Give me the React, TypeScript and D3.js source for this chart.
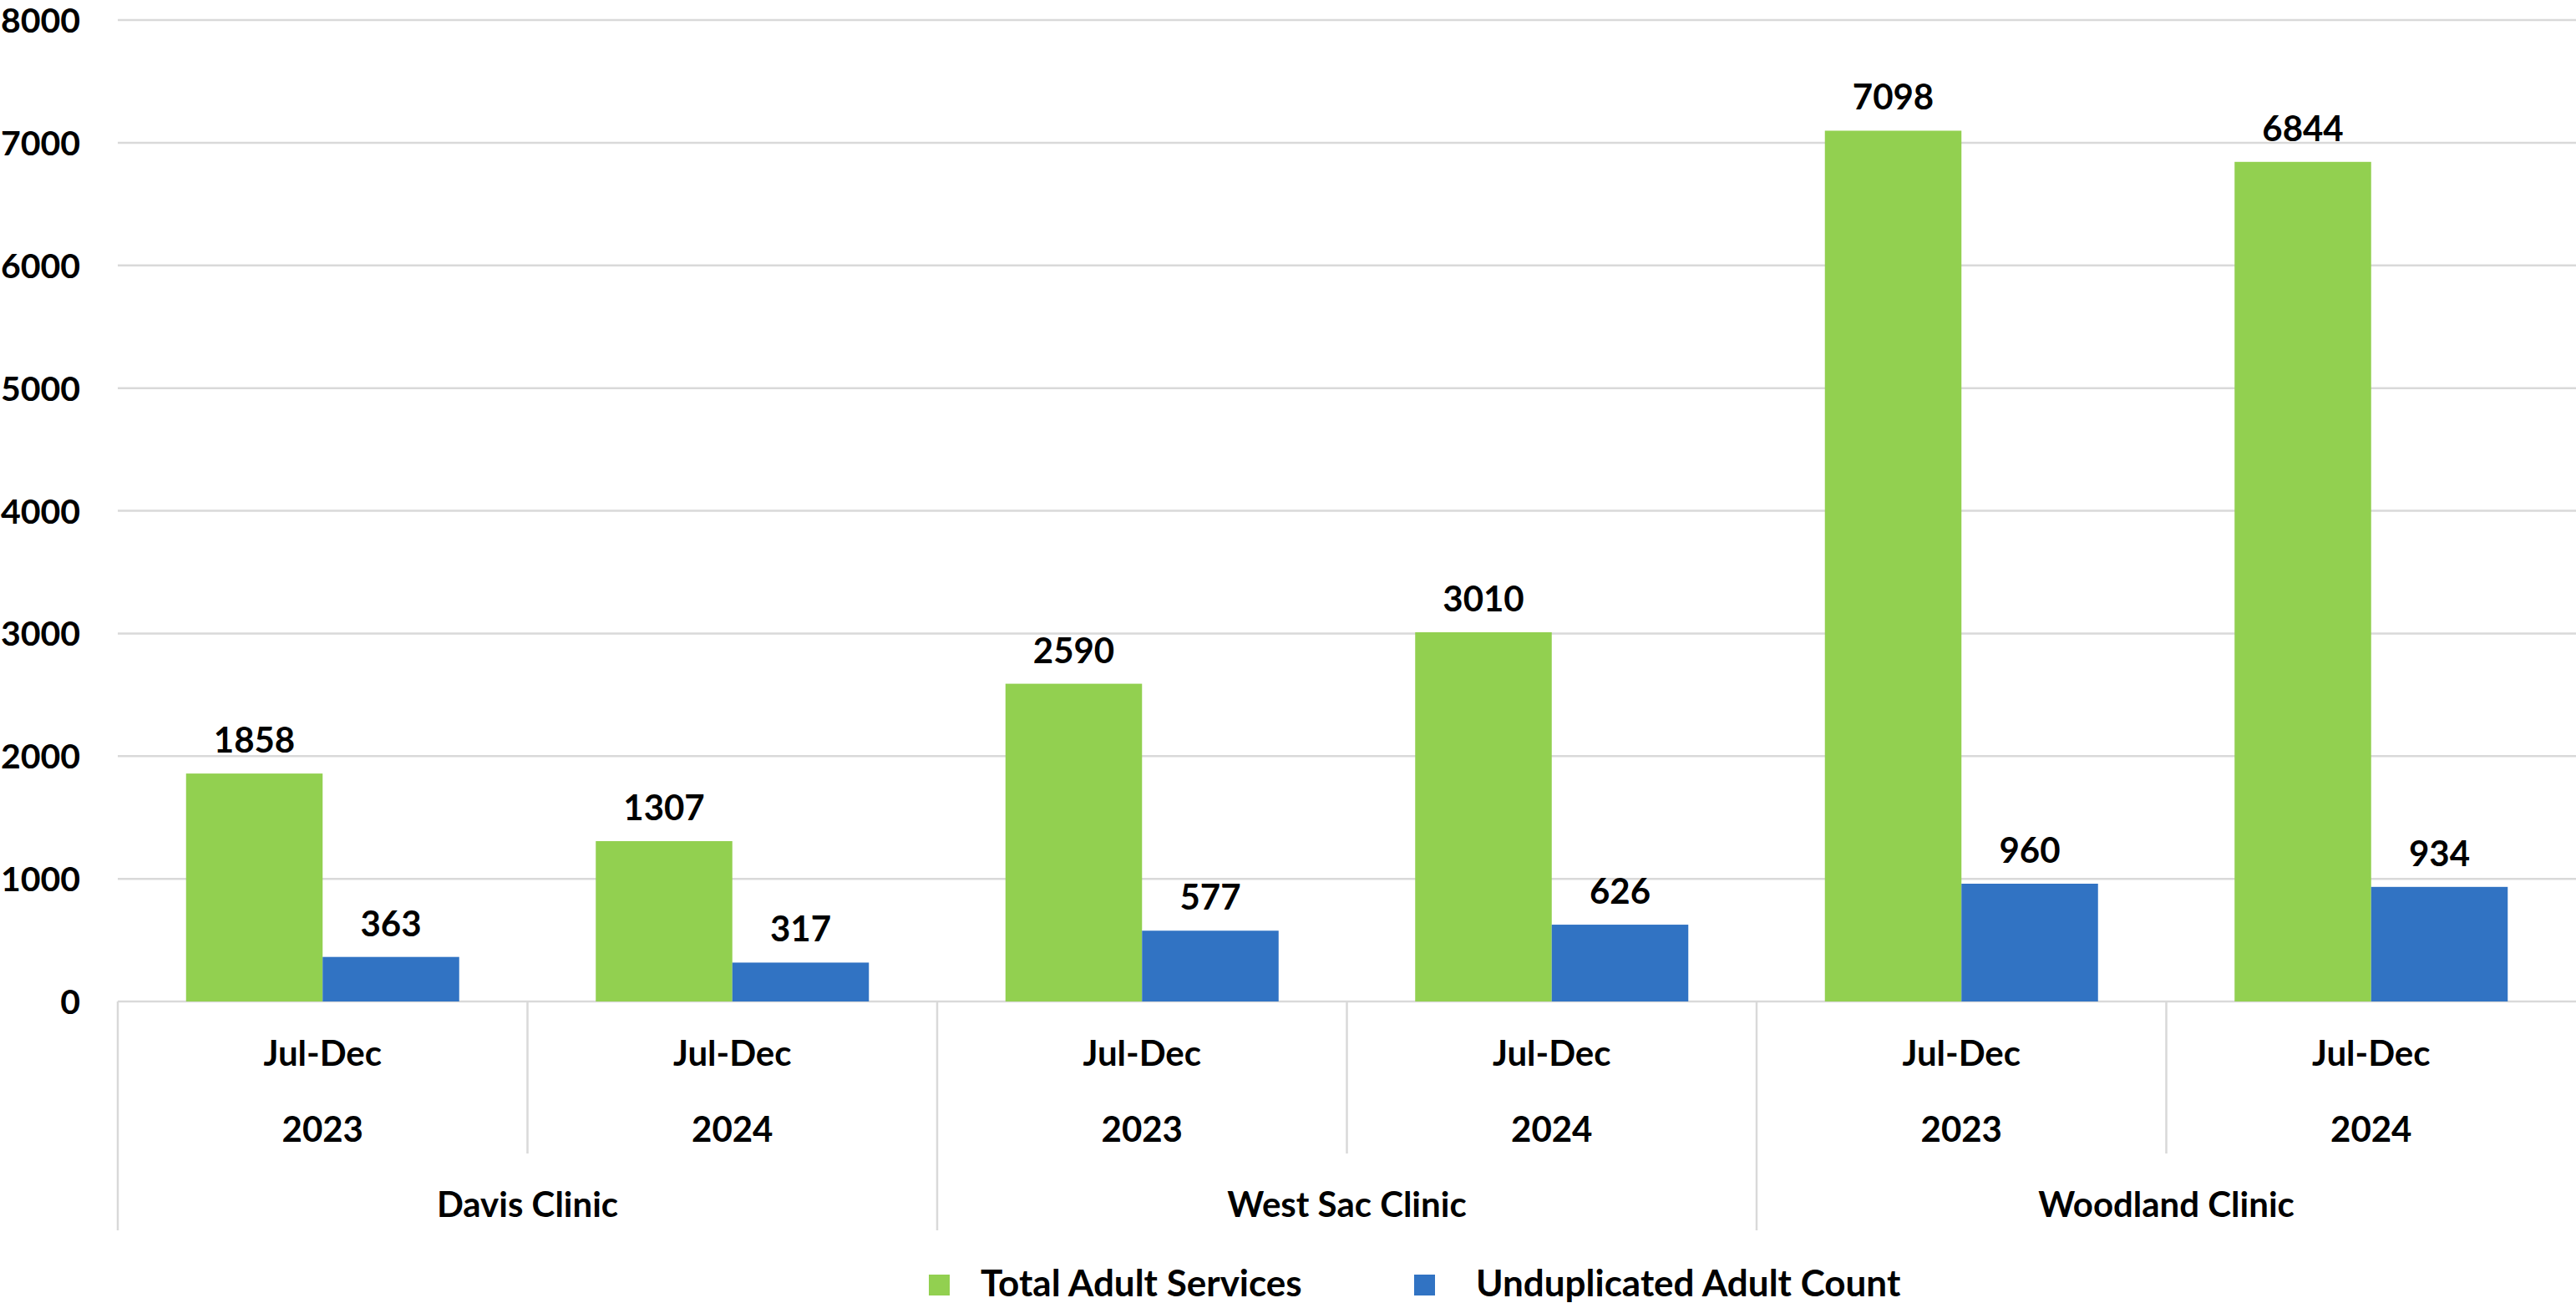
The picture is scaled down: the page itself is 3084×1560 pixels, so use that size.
import React from "react";
import * as d3 from "d3";

const clinics = ["Davis Clinic", "West Sac Clinic", "Woodland Clinic"];
const periods = ["Jul-Dec", "Jul-Dec", "Jul-Dec", "Jul-Dec", "Jul-Dec", "Jul-Dec"];
const years = ["2023", "2024", "2023", "2024", "2023", "2024"];
const totalServices = [1858, 1307, 2590, 3010, 7098, 6844];
const unduplicatedCount = [363, 317, 577, 626, 960, 934];
const seriesNames = ["Total Adult Services", "Unduplicated Adult Count"];
const seriesColors = ["#92D050", "#3173C3"];
const yTicks = [0, 1000, 2000, 3000, 4000, 5000, 6000, 7000, 8000];

const W = 3084;
const H = 1560;
const left = 141;
const right = 3084;
const top = 24;
const bottom = 1199;
const font = "Lato, 'Open Sans', sans-serif";

const App = () => {
  const idx = d3.range(periods.length).map(String);
  const x0 = d3.scaleBand().domain(idx).range([left, right]).padding(0);
  const x1 = d3
    .scaleBand()
    .domain(seriesNames)
    .range([0, x0.bandwidth()])
    .paddingInner(0)
    .paddingOuter(0.5);
  const y = d3.scaleLinear().domain([0, 8000]).range([bottom, top]);
  const values = [totalServices, unduplicatedCount];
  const perClinic = periods.length / clinics.length;

  return (
    <svg
      width={W}
      height={H}
      style={{ position: "absolute", left: 0, top: 0, background: "#fff" }}
      fontFamily={font}
      fontWeight={700}
    >
      {yTicks.map((t) => (
        <g key={t}>
          <line x1={left} x2={right} y1={y(t)} y2={y(t)} stroke="#d9d9d9" strokeWidth={2.5} />
          <text x={96} y={y(t) + 15} textAnchor="end" fontSize={41} fill="#000">
            {t}
          </text>
        </g>
      ))}

      {idx.map((k, i) =>
        seriesNames.map((s, j) => {
          const v = values[j][i];
          const bx = (x0(k) as number) + (x1(s) as number);
          return (
            <g key={k + s}>
              <rect x={bx} y={y(v)} width={x1.bandwidth()} height={y(0) - y(v)} fill={seriesColors[j]} />
              <text x={bx + x1.bandwidth() / 2} y={y(v) - 25} textAnchor="middle" fontSize={42} fill="#000">
                {v}
              </text>
            </g>
          );
        })
      )}

      {/* category axis dividers */}
      {d3.range(periods.length).map((i) => {
        const xx = left + i * x0.step();
        const major = i % perClinic === 0;
        return (
          <line
            key={"d" + i}
            x1={xx}
            x2={xx}
            y1={bottom}
            y2={major ? 1473 : 1381}
            stroke="#d9d9d9"
            strokeWidth={2.5}
          />
        );
      })}

      {idx.map((k, i) => {
        const cx = (x0(k) as number) + x0.bandwidth() / 2;
        return (
          <g key={"l" + k}>
            <text x={cx} y={1276} textAnchor="middle" fontSize={42}>
              {periods[i]}
            </text>
            <text x={cx} y={1367} textAnchor="middle" fontSize={42}>
              {years[i]}
            </text>
          </g>
        );
      })}

      {clinics.map((c, i) => {
        const x = left + (i + 0.5) * perClinic * x0.step();
        return (
          <text key={c} x={x} y={1457} textAnchor="middle" fontSize={42}>
            {c}
          </text>
        );
      })}

      {/* legend */}
      {seriesNames.map((s, j) => {
        const lx = [1112, 1693][j];
        const tx = [1174, 1767][j];
        return (
          <g key={"lg" + s}>
            <rect x={lx} y={1526} width={25} height={25} fill={seriesColors[j]} />
            <text x={tx} y={1552} fontSize={44}>
              {s}
            </text>
          </g>
        );
      })}
    </svg>
  );
};

export default App;
